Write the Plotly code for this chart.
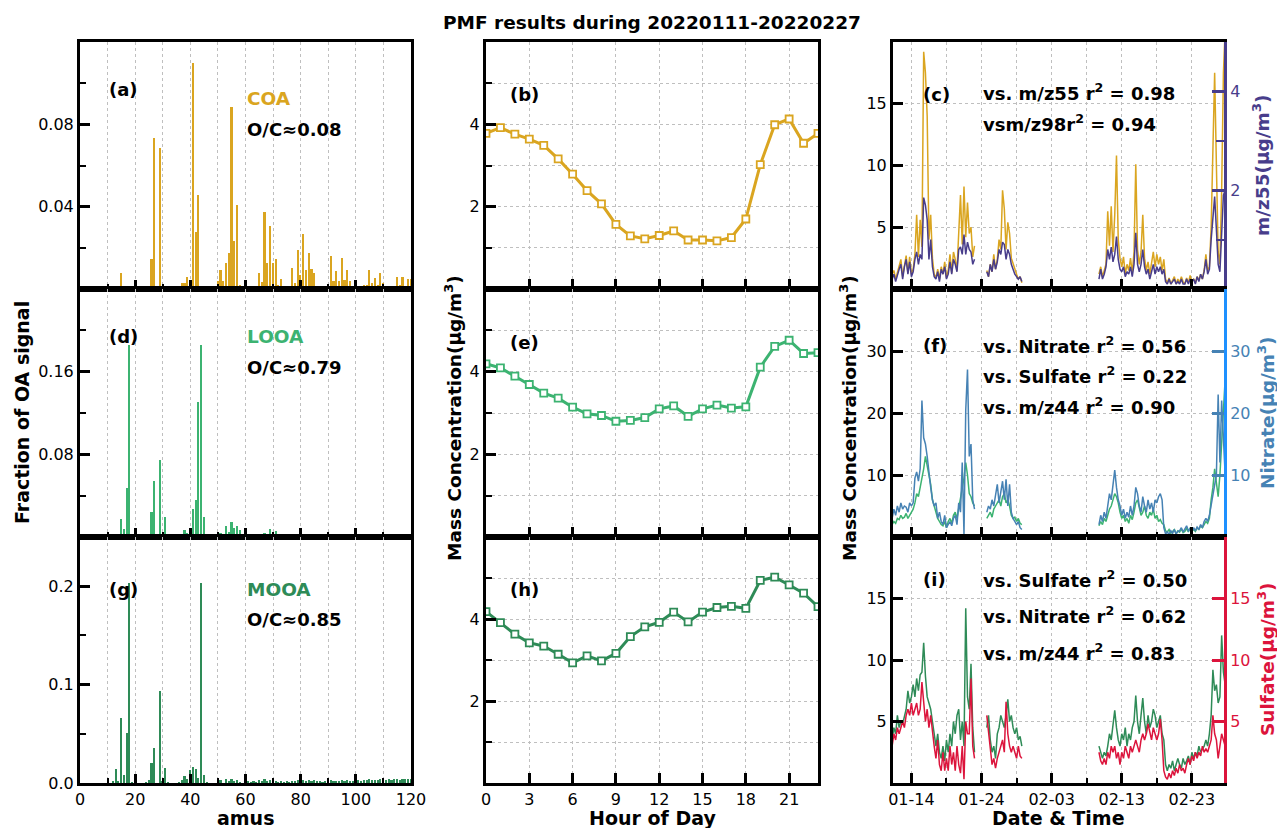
import plotly.graph_objects as go
import pandas as pd

F = "DejaVu Sans"
W, H = 1277, 828

# ---------------- colours ----------------
C_COA = "#DAA520"
C_LOOA = "#3CB371"
C_MOOA = "#2E8B57"
C_MZ55 = "#483D8B"
C_NIT = "#4682B4"
C_NIT_SPINE = "#1E90FF"
C_SUL = "#DC143C"

# ---------------- mass spectra (amu, fraction) ----------------
coa_mz = [15, 25, 26, 27, 29, 30, 31, 36, 37, 38, 39, 40, 41, 42, 43, 44, 45,
          50, 51, 52, 53, 54, 55, 56, 57, 58, 59, 60, 61, 62, 63, 64, 65, 66, 67, 68, 69, 70, 71, 72, 73, 74, 75, 76,
          77, 78, 79, 80, 81, 82, 83, 84, 85, 86, 87, 89, 90, 91, 92, 93, 94, 95, 96, 97, 98, 99, 100,
          101, 102, 103, 104, 105, 106, 107, 108, 109, 110, 111, 112, 113, 114, 115, 116, 117, 118, 119, 120]
coa_val = [0.0076, 0.001, 0.0148, 0.0734, 0.0685, 0.001, 0.001, 0.001, 0.003, 0.003, 0.0056, 0.001, 0.1097, 0.0277, 0.0455, 0.001, 0.001,
           0.004, 0.009, 0.004, 0.0124, 0.0176, 0.0882, 0.0232, 0.0406, 0.002, 0.001, 0.001, 0.001, 0.001, 0.0015, 0.001, 0.008, 0.0035, 0.0374, 0.0124, 0.0305, 0.0124, 0.0144, 0.002, 0.005, 0.001, 0.001, 0.001,
           0.010, 0.003, 0.0189, 0.0068, 0.0266, 0.0092, 0.0173, 0.0095, 0.0076, 0.001, 0.001, 0.001, 0.001, 0.016, 0.004, 0.0087, 0.004, 0.0153, 0.0044, 0.0092, 0.004, 0.001, 0.001,
           0.001, 0.001, 0.002, 0.002, 0.0092, 0.003, 0.0055, 0.002, 0.0076, 0.003, 0.001, 0.001, 0.001, 0.001, 0.006, 0.002, 0.0056, 0.001, 0.0047, 0.0047]

looa_mz = [12, 13, 14, 15, 16, 17, 18, 24, 25, 26, 27, 29, 30, 31, 36, 37, 38, 39, 40, 41, 42, 43, 44, 45, 46, 48,
           50, 51, 52, 53, 54, 55, 56, 57, 58, 59, 60, 61, 63, 65, 66, 67, 68, 69, 70, 71, 72, 73, 74, 77, 79, 81, 82, 83, 85, 91, 95, 97]
looa_val = [0.001, 0.001, 0.002, 0.0174, 0.0077, 0.047, 0.1855, 0.001, 0.002, 0.024, 0.0545, 0.075, 0.001, 0.019, 0.001, 0.002, 0.007, 0.004, 0.003, 0.027, 0.036, 0.131, 0.1855, 0.019, 0.001, 0.001,
            0.003, 0.004, 0.002, 0.011, 0.005, 0.015, 0.009, 0.011, 0.007, 0.003, 0.002, 0.001, 0.001, 0.002, 0.001, 0.004, 0.002, 0.008, 0.004, 0.006, 0.001, 0.001, 0.001, 0.001, 0.002, 0.003, 0.001, 0.001, 0.002, 0.001, 0.001, 0.001]

mooa_mz = [12, 13, 14, 15, 16, 17, 18, 19, 24, 25, 26, 27, 29, 30, 31, 32, 36, 37, 38, 39, 40, 41, 42, 43, 44, 45, 46,
           50, 51, 53, 54, 55, 56, 57, 58, 60, 61, 62, 63, 64, 65, 66, 67, 68, 69, 70, 71,
           72, 73, 74, 75, 76, 77, 78, 79, 80, 81, 82, 83, 84, 85, 86, 87, 88, 89, 90, 91, 92, 93, 94, 95, 96,
           97, 98, 99, 100, 101, 102, 103, 104, 105, 106, 107, 108, 109, 110, 111, 112, 113, 114, 115, 116, 117, 118, 119, 120]
mooa_val = [0.002, 0.014, 0.002, 0.066, 0.008, 0.051, 0.203, 0.001, 0.001, 0.003, 0.020, 0.036, 0.093, 0.002, 0.015, 0.001, 0.001, 0.003, 0.007, 0.004, 0.013, 0.016, 0.014, 0.005, 0.203, 0.008, 0.001,
            0.002, 0.003, 0.004, 0.002, 0.004, 0.002, 0.003, 0.001, 0.003, 0.002, 0.001, 0.002, 0.001, 0.003, 0.002, 0.004, 0.002, 0.003, 0.002, 0.002,
            0.001, 0.002, 0.001, 0.002, 0.001, 0.002, 0.002, 0.003, 0.002, 0.003, 0.002, 0.003, 0.002, 0.003, 0.002, 0.002, 0.001, 0.002, 0.002, 0.003, 0.002, 0.002, 0.002, 0.003, 0.002,
            0.003, 0.002, 0.002, 0.002, 0.003, 0.002, 0.003, 0.003, 0.004, 0.003, 0.003, 0.003, 0.004, 0.003, 0.003, 0.004, 0.003, 0.004, 0.004, 0.003, 0.004, 0.004, 0.004, 0.004]

# ---------------- diurnal cycles ----------------
hours = list(range(24))
coa_diurnal = [3.78, 3.92, 3.76, 3.64, 3.49, 3.16, 2.79, 2.39, 2.07, 1.57, 1.29, 1.22,
               1.30, 1.41, 1.19, 1.19, 1.17, 1.25, 1.70, 3.02, 3.99, 4.13, 3.54, 3.78]
looa_diurnal = [4.19, 4.09, 3.89, 3.69, 3.48, 3.36, 3.14, 2.98, 2.94, 2.80, 2.82, 2.89,
                3.10, 3.17, 2.92, 3.10, 3.19, 3.12, 3.15, 4.11, 4.61, 4.76, 4.44, 4.46]
mooa_diurnal = [4.18, 3.91, 3.63, 3.42, 3.34, 3.14, 2.93, 3.10, 2.98, 3.16, 3.57, 3.81,
                3.92, 4.17, 3.93, 4.17, 4.28, 4.31, 4.26, 4.94, 5.02, 4.83, 4.63, 4.30]

# ---------------- time series (6-hourly, three measurement periods) ----------------
t1 = pd.date_range("2022-01-11 06:00", periods=48, freq="6h")
t2 = pd.date_range("2022-01-24 18:00", periods=21, freq="6h")
t3 = pd.date_range("2022-02-09 18:00", periods=73, freq="6h")

coa_ts1 = [1.2, 1.5, 0.8, 1.4, 1.8, 2.4, 1.0, 2.0, 2.7, 1.3, 2.6, 1.2, 1.6, 2.8, 6.0, 2.6,
           5.6, 3.4, 19.2, 17.5, 14.0, 4.0, 6.0, 2.5, 1.2, 0.9, 1.6, 0.8, 1.8, 1.2, 2.2, 0.9,
           1.5, 2.8, 1.3, 3.0, 2.4, 1.5, 4.5, 7.6, 3.6, 8.3, 4.2, 7.0, 4.5, 5.0, 2.6, 3.5]
coa_ts2 = [1.5, 1.0, 2.0, 1.4, 2.8, 1.6, 2.4, 4.0, 3.2, 8.0, 6.5, 3.2, 5.4, 4.5, 2.5, 2.0,
           1.5, 1.2, 0.8, 1.0, 0.5]
coa_ts3 = [1.2, 1.8, 1.0, 1.5, 2.0, 6.3, 3.5, 6.7, 3.0, 6.0, 10.8, 4.0, 2.5, 1.8, 2.6, 1.2,
           2.0, 1.5, 2.5, 1.3, 3.0, 10.1, 3.2, 2.0, 3.0, 6.0, 2.5, 1.5, 2.2, 1.2, 2.0, 3.0,
           1.8, 2.8, 2.0, 2.6, 1.5, 2.4, 0.8, 0.5, 0.9, 0.4, 0.7, 1.0, 0.4, 0.8, 0.5, 1.0,
           0.6, 0.4, 0.9, 0.5, 1.1, 0.6, 0.8, 0.5, 1.0, 0.7, 1.2, 0.8, 1.5, 2.8, 1.5, 1.8,
           5.0, 11.7, 17.5, 10.0, 3.0, 2.0, 8.0, 17.5, 21.0]

mz55_ts1 = [0.2, 0.3, 0.15, 0.3, 0.4, 0.5, 0.2, 0.45, 0.6, 0.3, 0.55, 0.25, 0.35, 0.6, 0.75, 0.5,
            0.7, 0.6, 1.85, 1.7, 1.4, 0.6, 1.0, 0.45, 0.25, 0.2, 0.35, 0.15, 0.4, 0.3, 0.45, 0.2,
            0.3, 0.55, 0.3, 0.6, 0.5, 0.35, 0.8, 0.85, 0.7, 1.1, 0.7, 0.95, 0.8, 0.75, 0.5, 0.6]
mz55_ts2 = [0.35, 0.25, 0.5, 0.35, 0.6, 0.4, 0.55, 0.8, 0.7, 0.95, 0.9, 0.6, 0.8, 0.7, 0.5, 0.4,
            0.3, 0.25, 0.2, 0.25, 0.15]
mz55_ts3 = [0.2, 0.4, 0.2, 0.3, 0.45, 0.8, 0.6, 0.85, 0.55, 0.7, 1.06, 0.6, 0.4, 0.35, 0.45, 0.25,
            0.35, 0.3, 0.45, 0.25, 0.5, 1.14, 0.5, 0.35, 0.5, 0.8, 0.45, 0.3, 0.4, 0.2, 0.35, 0.5,
            0.3, 0.45, 0.35, 0.45, 0.3, 0.4, 0.15, 0.1, 0.2, 0.1, 0.15, 0.2, 0.1, 0.15, 0.1, 0.2,
            0.1, 0.1, 0.2, 0.1, 0.2, 0.15, 0.2, 0.1, 0.25, 0.15, 0.3, 0.2, 0.35, 0.6, 0.3, 0.4,
            1.0, 1.5, 1.87, 1.2, 0.5, 0.35, 1.2, 1.9, 2.0]

looa_ts1 = [2.0, 2.5, 2.2, 3.0, 2.8, 3.5, 3.0, 3.2, 3.8, 3.0, 3.5, 4.0, 4.5, 5.5, 7.0, 6.5,
            8.0, 9.0, 11.0, 13.0, 11.5, 10.0, 8.5, 6.0, 5.0, 4.0, 3.0, 2.5, 2.0, 1.8, 2.5, 1.5,
            2.5, 3.0, 2.2, 3.5, 4.0, 3.0, 4.5, 6.0, 8.0, 9.5, 12.0, 10.0, 7.0, 6.5, 5.5, 5.0]
looa_ts2 = [3.0, 3.5, 4.0, 3.2, 4.5, 5.0, 5.5, 6.0, 5.0, 6.5, 7.0, 5.5, 6.0, 5.0, 3.5, 3.0,
            3.2, 2.5, 3.0, 2.2, 2.0]
looa_ts3 = [1.8, 2.5, 2.0, 3.0, 2.5, 3.5, 4.5, 5.0, 6.0, 7.0, 6.5, 5.5, 4.0, 3.0, 3.5, 2.5,
            3.0, 2.2, 3.5, 2.8, 4.0, 5.5, 6.0, 4.5, 3.5, 4.0, 5.0, 3.5, 3.0, 4.0, 3.5, 4.5,
            3.0, 3.5, 2.5, 2.8, 2.2, 2.0, 1.0, 0.8, 1.2, 0.6, 0.9, 1.2, 0.5, 1.0, 0.8, 1.3,
            0.7, 0.9, 1.4, 0.8, 1.5, 1.0, 1.2, 0.9, 1.5, 1.2, 1.8, 1.5, 2.0, 2.5, 2.2, 3.0,
            6.0, 8.0, 11.0, 9.0, 6.5, 10.0, 15.0, 20.0, 25.5]

nit_ts1 = [3.0, 4.5, 3.5, 5.0, 4.0, 5.5, 4.5, 5.0, 4.8, 4.0, 5.5, 5.0, 5.5, 9.5, 10.5, 9.0,
           11.0, 22.0, 16.0, 15.0, 13.0, 10.0, 8.0, 6.0, 5.0, 5.5, 3.0, 4.0, 2.5, 2.0, 3.5, 1.5,
           2.0, 2.5, 1.8, 3.0, 3.5, 2.0, 5.5, 4.0, 12.0, 0.5, 20.5, 27.0, 13.0, 15.0, 6.0, 4.5]
nit_ts2 = [4.0, 5.0, 4.5, 6.0, 5.0, 6.5, 8.5, 5.5, 7.0, 9.0, 6.0, 9.3, 5.0, 8.5, 4.0, 3.0,
           2.5, 2.0, 2.5, 1.5, 1.2]
nit_ts3 = [2.0, 3.5, 2.5, 4.0, 3.0, 5.5, 7.0, 6.0, 8.0, 10.8, 8.0, 6.0, 5.0, 3.5, 4.5, 3.0,
           4.0, 3.2, 5.0, 3.5, 5.0, 8.0, 7.0, 5.0, 4.0, 6.5, 5.0, 4.0, 6.0, 4.5, 5.5, 4.0,
           6.0, 5.5, 6.5, 7.0, 6.0, 1.5, 0.5, 0.8, 0.4, 1.0, 0.6, 1.2, 0.5, 0.9, 1.0, 1.5,
           0.8, 1.2, 1.8, 1.0, 1.3, 0.9, 1.5, 1.0, 1.6, 1.2, 2.0, 1.5, 2.5, 3.0, 2.5, 3.5,
           5.0, 7.0, 8.5, 10.0, 23.0, 12.0, 22.0, 15.0, 10.0]

mooa_ts1 = [3.5, 4.5, 4.0, 5.5, 4.5, 5.0, 4.8, 5.5, 6.0, 7.5, 6.5, 7.0, 8.0, 7.0, 8.5, 7.5,
            8.8, 9.0, 11.4, 8.7, 7.0, 6.5, 6.0, 5.0, 4.0, 3.0, 4.0, 2.5, 2.0, 3.0, 1.8, 3.5,
            2.5, 4.0, 3.0, 5.0, 4.0, 5.5, 6.0, 3.5, 5.0, 3.0, 14.2, 7.0, 6.0, 9.7, 4.5, 2.5]
mooa_ts2 = [4.5, 5.5, 3.5, 2.5, 3.0, 2.0, 4.0, 4.5, 5.5, 5.0, 4.5, 5.5, 6.8, 5.0, 5.5, 4.5,
            4.0, 4.5, 3.5, 3.8, 3.0]
mooa_ts3 = [3.0, 2.5, 2.0, 2.5, 2.2, 3.0, 4.0, 3.5, 4.5, 5.9, 4.5, 3.5, 3.0, 4.0, 3.5, 4.5,
            3.0, 4.0, 3.5, 4.5, 5.0, 7.1, 5.0, 4.0, 5.5, 6.9, 5.0, 4.0, 5.5, 4.5, 5.0, 6.0,
            5.5, 4.5, 5.0, 5.5, 4.0, 3.5, 1.5, 1.0, 1.5, 1.2, 1.8, 1.0, 1.5, 2.0, 1.5, 1.2,
            2.0, 1.5, 1.8, 2.2, 1.5, 2.5, 2.0, 2.5, 2.2, 3.0, 2.5, 2.8, 3.0, 3.5, 3.0, 4.0,
            5.5, 9.2, 7.5, 8.0, 6.5, 7.0, 12.0, 9.0, 8.0]

sul_ts1 = [3.0, 4.0, 3.5, 4.5, 4.0, 4.5, 5.0, 4.5, 5.5, 6.0, 5.5, 6.5, 5.5, 6.0, 6.5, 5.5,
           6.0, 8.2, 6.5, 5.0, 6.0, 4.5, 5.5, 4.0, 3.0, 2.0, 3.5, 1.5, 1.0, 2.5, 1.0, 2.0,
           1.0, 3.0, 1.5, 2.5, 1.0, 3.0, 1.5, 0.8, 3.0, 0.3, 5.0, 4.0, 4.0, 8.5, 3.0, 2.0]
sul_ts2 = [5.5, 4.0, 3.0, 1.5, 2.0, 1.2, 2.0, 2.5, 3.0, 3.5, 2.5, 6.6, 4.0, 3.0, 2.5, 3.0,
           2.5, 2.0, 3.0, 2.2, 2.0]
sul_ts3 = [2.5, 1.8, 1.5, 2.0, 1.5, 2.5, 2.0, 3.0, 2.5, 3.0, 2.0, 2.5, 1.5, 2.5, 2.0, 3.0,
           2.5, 2.0, 3.0, 2.5, 3.0, 3.5, 3.0, 2.5, 3.5, 4.0, 3.5, 4.0, 4.8, 4.0, 3.5, 4.5,
           4.0, 3.5, 4.0, 5.2, 3.5, 1.0, 0.5, 0.3, 0.8, 0.4, 1.0, 0.6, 1.2, 0.8, 1.5, 1.0,
           1.2, 0.8, 1.5, 2.0, 1.5, 2.2, 1.8, 2.5, 2.0, 2.5, 2.2, 3.0, 2.5, 2.8, 2.5, 3.0,
           3.5, 5.5, 4.0, 3.5, 2.0, 3.0, 4.0, 3.5, 3.0]


def join(a, b, c):
    return list(a) + [None] + list(b) + [None] + list(c)


t_all = join(t1, t2, t3)

# ---------------- geometry helpers ----------------
cols = [(80, 411), (486, 818), (893, 1224)]
rows = [(42, 289), (289, 537), (537, 783)]


def xd(c):
    return [cols[c][0] / W, cols[c][1] / W]


def yd(r):
    return [1 - rows[r][1] / H, 1 - rows[r][0] / H]


GRID = "#bfbfbf"


def axis(**kw):
    d = dict(showline=True, linewidth=3, linecolor="black", mirror=True,
             ticks="inside", ticklen=10, tickwidth=2.7, tickcolor="black",
             zeroline=False, showgrid=False, gridcolor=GRID, griddash="dot", gridwidth=1,
             automargin=False,
             tickfont=dict(family=F, size=16, color="black"))
    d.update(kw)
    return d


def minor(vals=None, grid=False, **kw):
    m = dict(ticks="inside", ticklen=5, tickwidth=2.2, tickcolor="black",
             showgrid=grid, gridcolor=GRID, griddash="dot", gridwidth=1)
    if vals is not None:
        m["tickvals"] = vals
    m.update(kw)
    return m


fig = go.Figure()
layout = dict(width=W, height=H, margin=dict(l=0, r=0, t=0, b=0, pad=0, autoexpand=False),
              paper_bgcolor="white", plot_bgcolor="white", showlegend=False,
              font=dict(family=F, size=16, color="black"))

# ---- column 1: mass spectra ----
spectra = [(coa_mz, coa_val, C_COA, [0, 0.12], [0.04, 0.08], ["0.04", "0.08"], [0.02, 0.06, 0.10]),
           (looa_mz, looa_val, C_LOOA, [0, 0.24], [0.08, 0.16], ["0.08", "0.16"], [0.04, 0.12, 0.20]),
           (mooa_mz, mooa_val, C_MOOA, [0, 0.25], [0, 0.1, 0.2], ["0.0", "0.1", "0.2"], [0.05, 0.15])]
for r, (mz, val, col, rng, tv, tt, mv) in enumerate(spectra):
    i = r * 3 + 1
    fig.add_trace(go.Bar(x=mz, y=val, width=0.6, marker=dict(color=col, line=dict(width=0)),
                         xaxis=f"x{i}", yaxis=f"y{i}"))
    layout[f"xaxis{i}"] = axis(domain=xd(0), anchor=f"y{i}", range=[0, 120],
                               tickvals=[0, 20, 40, 60, 80, 100, 120], showgrid=True, ticklen=9,
                               showticklabels=(r == 2),
                               minor=minor([10, 30, 50, 70, 90, 110], grid=True))
    layout[f"yaxis{i}"] = axis(domain=yd(r), anchor=f"x{i}", range=rng, tickvals=tv, ticktext=tt,
                               minor=minor(mv, ticklen=6))

# ---- column 2: diurnal ----
diurnals = [(coa_diurnal, C_COA), (looa_diurnal, C_LOOA), (mooa_diurnal, C_MOOA)]
for r, (vals, col) in enumerate(diurnals):
    i = r * 3 + 2
    fig.add_trace(go.Scatter(x=hours, y=vals, mode="lines+markers",
                             line=dict(color=col, width=3),
                             marker=dict(symbol="square", size=7, color="white",
                                         line=dict(color=col, width=1.8)),
                             xaxis=f"x{i}", yaxis=f"y{i}"))
    layout[f"xaxis{i}"] = axis(domain=xd(1), anchor=f"y{i}", range=[0, 23],
                               tickvals=[0, 3, 6, 9, 12, 15, 18, 21], showgrid=True,
                               ticklen=10, showticklabels=(r == 2))
    layout[f"yaxis{i}"] = axis(domain=yd(r), anchor=f"x{i}", range=[0, 6], tickvals=[2, 4],
                               showgrid=True, minor=minor([1, 3, 5], grid=True, ticklen=6))

# ---- column 3: time series ----
DAY = 86400000
ts_panels = [
    (join(coa_ts1, coa_ts2, coa_ts3), C_COA, [0, 20], [5, 10, 15],
     join(mz55_ts1, mz55_ts2, mz55_ts3), C_MZ55, C_MZ55, [0, 5], [2, 4], [1, 3]),
    (join(looa_ts1, looa_ts2, looa_ts3), C_LOOA, [0, 40], [10, 20, 30],
     join(nit_ts1, nit_ts2, nit_ts3), C_NIT, C_NIT_SPINE, [0, 40], [10, 20, 30], None),
    (join(mooa_ts1, mooa_ts2, mooa_ts3), C_MOOA, [0, 20], [5, 10, 15],
     join(sul_ts1, sul_ts2, sul_ts3), C_SUL, C_SUL, [0, 20], [5, 10, 15], None),
]
for r, (lv, lcol, lrng, ltv, rv, rcol, spine, rrng, rtv, rmv) in enumerate(ts_panels):
    i = r * 3 + 3
    j = 10 + r
    fig.add_trace(go.Scatter(x=t_all, y=lv, mode="lines", line=dict(color=lcol, width=1.5),
                             connectgaps=False, xaxis=f"x{i}", yaxis=f"y{i}"))
    fig.add_trace(go.Scatter(x=t_all, y=rv, mode="lines", line=dict(color=rcol, width=1.5),
                             connectgaps=False, xaxis=f"x{i}", yaxis=f"y{j}"))
    layout[f"xaxis{i}"] = axis(domain=xd(2), anchor=f"y{i}", type="date",
                               range=["2022-01-11 09:00", "2022-02-27 14:00"],
                               tick0="2022-01-14", dtick=10 * DAY, tickformat="%m-%d",
                               showgrid=True, ticklen=10, showticklabels=(r == 2),
                               minor=dict(tick0="2022-01-14", dtick=5 * DAY, ticks="inside",
                                          ticklen=5, tickwidth=2.2, tickcolor="black",
                                          showgrid=True, gridcolor=GRID, griddash="dot", gridwidth=1))
    layout[f"yaxis{i}"] = axis(domain=yd(r), anchor=f"x{i}", range=lrng, tickvals=ltv,
                               mirror=False, showgrid=True, ticklen=10)
    ry = axis(overlaying=f"y{i}", anchor=f"x{i}", side="right", range=rrng, tickvals=rtv,
              mirror=False, showgrid=False, linecolor=spine, tickcolor=rcol, ticklen=12,
              tickfont=dict(family=F, size=16, color=rcol))
    if rmv:
        ry["minor"] = minor(rmv, tickcolor=rcol, ticklen=8)
    layout[f"yaxis{j}"] = ry

# ---------------- annotations ----------------
anns = []


def ann(text, x, y, size=16, color="black", xanchor="left", angle=0):
    anns.append(dict(text=text, x=x / W, y=1 - y / H, xref="paper", yref="paper",
                     xanchor=xanchor, yanchor="middle", showarrow=False, textangle=angle,
                     borderpad=0, font=dict(family=F, size=size, color=color)))


ann("<b>PMF results during 20220111-20220227</b>", 652, 22, 18.5, xanchor="center")

for lab, x, y in [("(a)", 108, 89), ("(b)", 509, 95), ("(c)", 922, 94),
                  ("(d)", 108, 336), ("(e)", 509, 342), ("(f)", 922, 345),
                  ("(g)", 108, 589), ("(h)", 509, 589), ("(i)", 922, 579)]:
    ann(f"<b>{lab}</b>", x, y, 18)

ann("<b>COA</b>", 246, 99, 18.5, C_COA)
ann("<b>O/C≈0.08</b>", 246, 129, 18)
ann("<b>LOOA</b>", 246, 336, 18.5, C_LOOA)
ann("<b>O/C≈0.79</b>", 246, 367, 18)
ann("<b>MOOA</b>", 246, 589, 18.5, C_MOOA)
ann("<b>O/C≈0.85</b>", 246, 619, 18)

ann("<b>vs. m/z55 r<sup>2</sup> = 0.98</b>", 982, 92, 18)
ann("<b>vsm/z98r<sup>2</sup> = 0.94</b>", 982, 123, 18)
ann("<b>vs. Nitrate r<sup>2</sup> = 0.56</b>", 982, 345, 18)
ann("<b>vs. Sulfate r<sup>2</sup> = 0.22</b>", 982, 375, 18)
ann("<b>vs. m/z44 r<sup>2</sup> = 0.90</b>", 982, 406, 18)
ann("<b>vs. Sulfate r<sup>2</sup> = 0.50</b>", 982, 579, 18)
ann("<b>vs. Nitrate r<sup>2</sup> = 0.62</b>", 982, 615, 18)
ann("<b>vs. m/z44 r<sup>2</sup> = 0.83</b>", 982, 652, 18)

ann("<b>Fraction of OA signal</b>", 22, 413, 19, xanchor="center", angle=-90)
ann("<b>Mass Concentration(μg/m<sup>3</sup>)</b>", 453, 418, 18.5, xanchor="center", angle=-90)
ann("<b>Mass Concentration(μg/m<sup>3</sup>)</b>", 848, 418, 18.5, xanchor="center", angle=-90)
ann("<b>amus</b>", 245, 818, 19, xanchor="center")
ann("<b>Hour of Day</b>", 652, 818, 19, xanchor="center")
ann("<b>Date &amp; Time</b>", 1058, 818, 19, xanchor="center")
ann("<b>m/z55(μg/m<sup>3</sup>)</b>", 1261, 166, 18.5, C_MZ55, xanchor="center", angle=-90)
ann("<b>Nitrate(μg/m<sup>3</sup>)</b>", 1266, 413, 18.5, C_NIT, xanchor="center", angle=-90)
ann("<b>Sulfate(μg/m<sup>3</sup>)</b>", 1266, 659, 18.5, C_SUL, xanchor="center", angle=-90)

layout["annotations"] = anns
layout["bargap"] = 0
fig.update_layout(**layout)
fig.write_html("out.html", config={"displayModeBar": False},
               post_script="document.body.style.margin='0';document.body.style.padding='0';")
